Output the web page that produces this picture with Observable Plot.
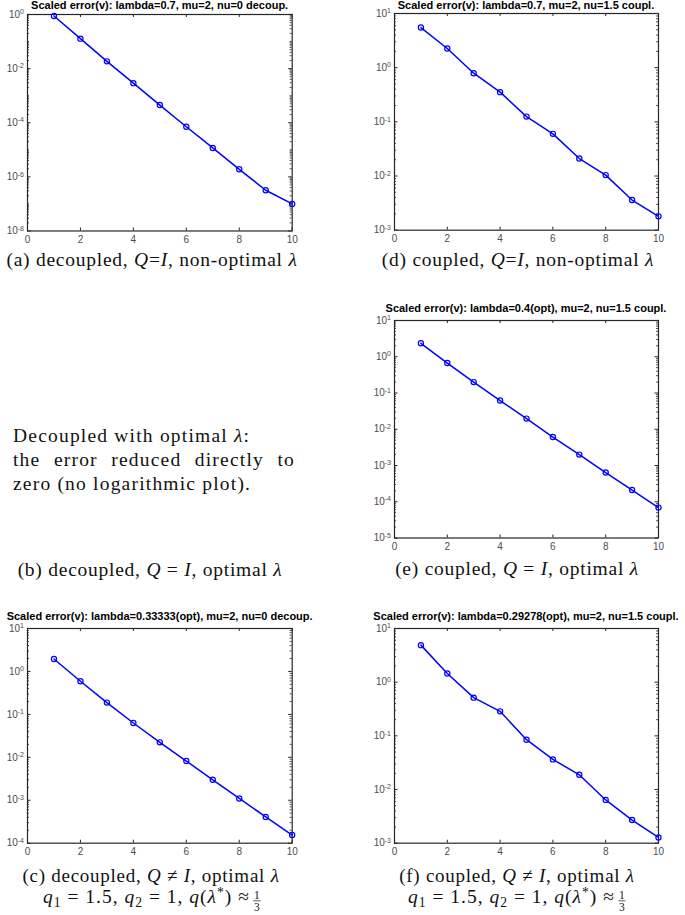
<!DOCTYPE html>
<html><head><meta charset="utf-8">
<script src="https://cdn.jsdelivr.net/npm/d3@7"></script>
<script src="https://cdn.jsdelivr.net/npm/@observablehq/plot@0.6"></script>
<style>
html,body{margin:0;padding:0;background:#fff;}
#page{position:relative;width:685px;height:915px;overflow:hidden;background:#fff;}
.panel{position:absolute;}
#overlay{position:absolute;left:0;top:0;pointer-events:none;}
</style></head><body><div id="page"></div>
<script>
// ---------- data ----------
const iterations = [1, 2, 3, 4, 5, 6, 7, 8, 9, 10];
const xTicks = [0, 2, 4, 6, 8, 10];

const errA = [0.88, 0.128, 0.0186, 0.0029, 4.5e-4, 7.1e-5, 1.17e-5, 1.9e-6, 3.2e-7, 1.0e-7];
const errD = [5.5, 2.26, 0.79, 0.353, 0.125, 0.060, 0.021, 0.0104, 0.0036, 0.0018];
const errE = [2.35, 0.67, 0.2, 0.062, 0.0197, 0.0061, 0.0020, 6.4e-4, 2.1e-4, 6.9e-5];
const errC = [1.95, 0.59, 0.188, 0.063, 0.0223, 0.0082, 0.0030, 0.0011, 4.1e-4, 1.55e-4];
const errF = [4.9, 1.45, 0.515, 0.286, 0.0847, 0.0364, 0.0188, 0.0064, 0.0027, 0.00128];

const expA = [-8, -6, -4, -2, 0];
const expD = [-3, -2, -1, 0, 1];
const expE = [-5, -4, -3, -2, -1, 0, 1];
const expC = [-4, -3, -2, -1, 0, 1];
const expF = [-3, -2, -1, 0, 1];

const titleA = "Scaled error(v): lambda=0.7, mu=2, nu=0 decoup.";
const titleD = "Scaled error(v): lambda=0.7, mu=2, nu=1.5 coupl.";
const titleE = "Scaled error(v): lambda=0.4(opt), mu=2, nu=1.5 coupl.";
const titleC = "Scaled error(v): lambda=0.33333(opt), mu=2, nu=0 decoup.";
const titleF = "Scaled error(v): lambda=0.29278(opt), mu=2, nu=1.5 coupl.";

// ---------- layout ----------
const layout = {
  a: {box: [27.3, 13.5, 292, 230], titleY: 9},
  d: {box: [394, 13.3, 658, 230], titleY: 9},
  e: {box: [394, 319.5, 658, 537], titleY: 312},
  c: {box: [27.3, 628.3, 292, 843], titleY: 620},
  f: {box: [394, 628.3, 658, 843], titleY: 619.5}
};

const page = document.getElementById("page");
const BLUE = "#0000ff";
const AX = "#262626";
const TICKTXT = "#4d4d4d";

function drawPanel(values, exps, lay) {
  const [x1, y1, x2, y2] = lay.box;
  const bw = x2 - x1, bh = y2 - y1;
  const mL = 40, mR = 10, mT = 6, mB = 24;
  const lo = Math.min(...exps), hi = Math.max(...exps);
  const decades = exps.map(e => Math.pow(10, e));
  const minor = [];
  for (let k = lo; k < hi; k++) for (let m = 2; m <= 9; m++) minor.push(m * Math.pow(10, k));
  const allDec = d3.range(lo, hi + 1).map(e => Math.pow(10, e)).filter(v => !decades.includes(v));
  const data = iterations.map((it, i) => ({it, v: values[i]}));
  const plot = Plot.plot({
    width: mL + bw + mR, height: mT + bh + mB,
    marginLeft: mL, marginRight: mR, marginTop: mT, marginBottom: mB,
    x: {domain: [0, 10]},
    y: {type: "log", domain: [Math.pow(10, lo), Math.pow(10, hi)]},
    style: {fontFamily: "'Liberation Sans', Arial, sans-serif", fontSize: "10px", color: TICKTXT, background: "transparent", overflow: "visible"},
    marks: [
      Plot.axisX(xTicks, {tickSize: 0, tickPadding: 5, label: null, fill: TICKTXT, fontSize: 10}),
      Plot.axisY(decades, {tickSize: 0, tickPadding: 3.5, label: null, fill: TICKTXT, fontSize: 10,
        tickFormat: d => String(Math.round(Math.log10(d)))}),
      // inward major ticks on x (bottom and top)
      Plot.tickX(xTicks, {x: d => d, insetTop: bh - 3, stroke: AX}),
      Plot.tickX(xTicks, {x: d => d, insetBottom: bh - 3, stroke: AX}),
      // inward major ticks on y (left and right)
      Plot.tickY(decades, {y: d => d, insetRight: bw - 3.5, stroke: AX}),
      Plot.tickY(decades, {y: d => d, insetLeft: bw - 3.5, stroke: AX}),
      // minor ticks
      Plot.tickY(minor.concat(allDec), {y: d => d, insetRight: bw - 2, stroke: AX, strokeWidth: 0.8}),
      Plot.tickY(minor.concat(allDec), {y: d => d, insetLeft: bw - 2, stroke: AX, strokeWidth: 0.8}),
      Plot.frame({stroke: AX, strokeWidth: 1.2}),
      Plot.line(data, {x: "it", y: "v", stroke: BLUE, strokeWidth: 1.5}),
      Plot.dot(data, {x: "it", y: "v", r: 2.6, stroke: BLUE, strokeWidth: 1.2, fill: "none"})
    ]
  });
  // superscript exponents on y tick labels
  d3.select(plot).selectAll('g[aria-label="y-axis tick label"] text').each(function () {
    const e = this.textContent;
    const t = d3.select(this);
    t.text("");
    t.append("tspan").text("10");
    t.append("tspan").attr("dy", "-0.5em").attr("font-size", "7px").text(e);
  });
  const div = document.createElement("div");
  div.className = "panel";
  div.style.left = (x1 - mL) + "px";
  div.style.top = (y1 - mT) + "px";
  div.appendChild(plot);
  page.appendChild(div);
}

drawPanel(errA, expA, layout.a);
drawPanel(errD, expD, layout.d);
drawPanel(errE, expE, layout.e);
drawPanel(errC, expC, layout.c);
drawPanel(errF, expF, layout.f);

// ---------- text overlay ----------
const svg = d3.select(page).append("svg").attr("id", "overlay")
  .attr("width", 685).attr("height", 915);

const SANS = "'Liberation Sans', Arial, sans-serif";
const SERIF = "'Liberation Serif', 'Times New Roman', serif";
const CAP = 19.5, LS = 0.75;

function title(txt, lay) {
  const [x1, , x2] = lay.box;
  svg.append("text").attr("x", (x1 + x2) / 2).attr("y", lay.titleY)
    .attr("text-anchor", "middle").attr("font-family", SANS).attr("font-weight", "bold")
    .attr("font-size", 11).attr("fill", "#000").text(txt);
}
title(titleA, layout.a); title(titleD, layout.d); title(titleE, layout.e);
title(titleC, layout.c); title(titleF, layout.f);

function rich(x, y, parts, anchor, size, ls) {
  const fs = size || CAP;
  const t = svg.append("text").attr("x", x).attr("y", y).attr("text-anchor", anchor || "middle")
    .attr("font-family", SERIF).attr("font-size", fs).attr("fill", "#111")
    .attr("letter-spacing", ls == null ? LS : ls);
  let shift = 0;
  parts.forEach(p => {
    const s = t.append("tspan").text(p.t);
    if (p.i) s.attr("font-style", "italic");
    let target = 0;
    if (p.sub) { target = 3.5; s.attr("font-size", fs * 0.7); }
    if (p.sup) { target = -6; s.attr("font-size", fs * 0.7); }
    if (target !== shift) { s.attr("dy", target - shift); shift = target; }
  });
  return t;
}

const capA = [{t: "(a) decoupled, "}, {t: "Q", i: 1}, {t: "="}, {t: "I", i: 1}, {t: ", non-optimal "}, {t: "\u03bb", i: 1}];
const capD = [{t: "(d) coupled, "}, {t: "Q", i: 1}, {t: "="}, {t: "I", i: 1}, {t: ", non-optimal "}, {t: "\u03bb", i: 1}];
const capB = [{t: "(b) decoupled, "}, {t: "Q", i: 1}, {t: " = "}, {t: "I", i: 1}, {t: ", optimal "}, {t: "\u03bb", i: 1}];
const capE = [{t: "(e) coupled, "}, {t: "Q", i: 1}, {t: " = "}, {t: "I", i: 1}, {t: ", optimal "}, {t: "\u03bb", i: 1}];
const capC = [{t: "(c) decoupled, "}, {t: "Q", i: 1}, {t: " \u2260 "}, {t: "I", i: 1}, {t: ", optimal "}, {t: "\u03bb", i: 1}];
const capF = [{t: "(f) coupled, "}, {t: "Q", i: 1}, {t: " \u2260 "}, {t: "I", i: 1}, {t: ", optimal "}, {t: "\u03bb", i: 1}];
const qLine = [{t: "q", i: 1}, {t: "1", sub: 1}, {t: " = 1.5, "}, {t: "q", i: 1}, {t: "2", sub: 1},
  {t: " = 1, "}, {t: "q", i: 1}, {t: "("}, {t: "\u03bb", i: 1}, {t: "*", sup: 1}, {t: ") \u2248 "}];

rich(152, 266, capA);
rich(518, 266, capD);
rich(150, 576, capB);
rich(517, 575, capE);
rich(151, 882, capC, "middle", 19);
rich(517, 882, capF, "middle", 19);

function qLineWithFrac(cx, y) {
  const t = rich(0, y, qLine, "start", 19.5, 1);
  const w = t.node().getComputedTextLength();
  const fw = 8, gap = 3;
  const start = cx - (w + gap + fw) / 2;
  t.attr("x", start);
  const fx = start + w + gap + fw / 2;
  svg.append("text").attr("x", fx).attr("y", y - 4).attr("text-anchor", "middle")
    .attr("font-family", SERIF).attr("font-size", 11.5).attr("fill", "#111").text("1");
  svg.append("line").attr("x1", fx - 3.5).attr("x2", fx + 3.5).attr("y1", y - 2.2).attr("y2", y - 2.2)
    .attr("stroke", "#111").attr("stroke-width", 0.7);
  svg.append("text").attr("x", fx).attr("y", y + 7.5).attr("text-anchor", "middle")
    .attr("font-family", SERIF).attr("font-size", 11.5).attr("fill", "#111").text("3");
}
qLineWithFrac(152, 903);
qLineWithFrac(517, 903);

// panel (b) text block
const bLine1 = "Decoupled with optimal ";
const bLine2 = ["the", "error", "reduced", "directly", "to"];
const bLine3 = "zero (no logarithmic plot).";
rich(13, 442, [{t: bLine1}, {t: "\u03bb", i: 1}, {t: ":"}], "start", 19.5, 1.2);
(function justify(words, xL, xR, y) {
  const widths = words.map(w => {
    const tt = rich(0, -100, [{t: w}], "start", 19.5, 1.2);
    const wd = tt.node().getComputedTextLength();
    tt.remove();
    return wd;
  });
  const gap = (xR - xL - d3.sum(widths)) / (words.length - 1);
  let x = xL;
  words.forEach((w, i) => { rich(x, y, [{t: w}], "start", 19.5, 1.2); x += widths[i] + gap; });
})(bLine2, 13, 295, 466);
rich(13, 490, [{t: bLine3}], "start", 19.5, 1.2);
</script></body></html>
